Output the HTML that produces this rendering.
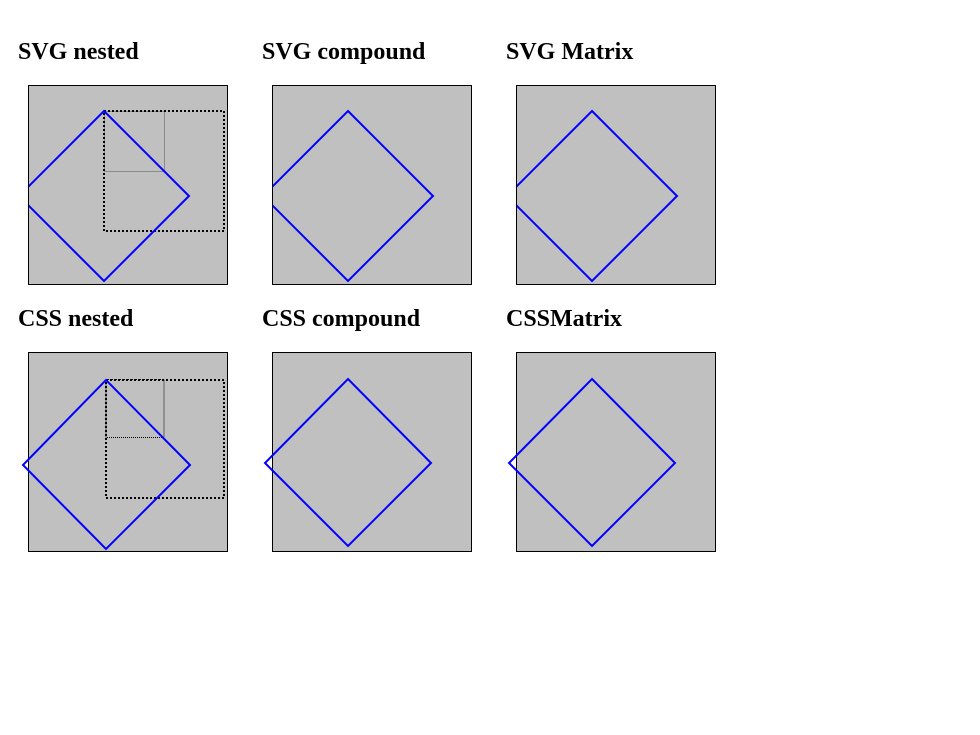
<!DOCTYPE html>
<html><head><meta charset="utf-8"><style>
html,body{margin:0;padding:0;background:#fff;width:980px;height:735px;overflow:hidden}
text{font-family:"Liberation Serif",serif;font-weight:bold;font-size:24px;fill:#000}
</style></head><body>
<svg width="980" height="735" viewBox="0 0 980 735">
<defs>
<clipPath id="c1"><rect x="29" y="86" width="198" height="198"/></clipPath>
<clipPath id="c2"><rect x="273" y="86" width="198" height="198"/></clipPath>
<clipPath id="c3"><rect x="517" y="86" width="198" height="198"/></clipPath>
</defs>
<text x="18" y="59">SVG nested</text>
<text x="262" y="59">SVG compound</text>
<text x="506" y="59">SVG Matrix</text>
<text x="18" y="326">CSS nested</text>
<text x="262" y="326">CSS compound</text>
<text x="506" y="326">CSSMatrix</text>

<g>
<rect x="28.5" y="85.5" width="199" height="199" fill="#c0c0c0" stroke="#000"/>
<g clip-path="url(#c1)">
<rect x="104.5" y="111.5" width="60" height="60" fill="none" stroke="#555" stroke-dasharray="1,1"/>
<rect x="104" y="111" width="120" height="120" fill="none" stroke="#000" stroke-width="2" stroke-dasharray="2,2"/>
<polygon points="104,111 189,196 104,281 19,196" fill="none" stroke="#00f" stroke-width="2"/>
</g></g>
<g>
<rect x="272.5" y="85.5" width="199" height="199" fill="#c0c0c0" stroke="#000"/>
<g clip-path="url(#c2)"><polygon points="348,111 433,196 348,281 263,196" fill="none" stroke="#00f" stroke-width="2"/></g>
</g>
<g>
<rect x="516.5" y="85.5" width="199" height="199" fill="#c0c0c0" stroke="#000"/>
<g clip-path="url(#c3)"><polygon points="592,111 677,196 592,281 507,196" fill="none" stroke="#00f" stroke-width="2"/></g>
</g>

<g>
<rect x="28.5" y="352.5" width="199" height="199" fill="#c0c0c0" stroke="#000"/>
<rect x="106" y="379.5" width="58" height="58" fill="none" stroke="#000" stroke-dasharray="1,1"/>
<rect x="106" y="380" width="118" height="118" fill="none" stroke="#000" stroke-width="2" stroke-dasharray="2,2"/>
<polygon points="106,380 190,465 106,549 23,465" fill="none" stroke="#00f" stroke-width="2"/>
</g>
<g>
<rect x="272.5" y="352.5" width="199" height="199" fill="#c0c0c0" stroke="#000"/>
<polygon points="348,379 431,463 348,546 265,463" fill="none" stroke="#00f" stroke-width="2"/>
</g>
<g>
<rect x="516.5" y="352.5" width="199" height="199" fill="#c0c0c0" stroke="#000"/>
<polygon points="592,379 675,463 592,546 509,463" fill="none" stroke="#00f" stroke-width="2"/>
</g>
</svg>
</body></html>
